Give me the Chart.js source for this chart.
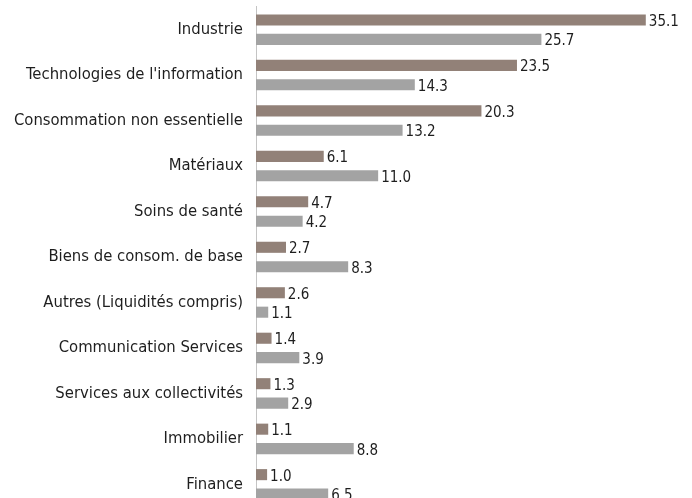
<!DOCTYPE html>
<html>
<head>
<meta charset="utf-8">
<script src="https://cdn.jsdelivr.net/npm/chart.js@4.4.0/dist/chart.umd.min.js"></script>
<style>
  html, body { margin: 0; padding: 0; background: #fff; overflow: hidden; }
  #wrap { position: relative; width: 692px; height: 546px; margin-top: -16px; }
</style>
</head>
<body>
<div id="wrap"><canvas id="sectorChart"></canvas></div>
<script>
const categories = [
  "Industrie",
  "Technologies de l'information",
  "Consommation non essentielle",
  "Matériaux",
  "Soins de santé",
  "Biens de consom. de base",
  "Autres (Liquidités compris)",
  "Communication Services",
  "Services aux collectivités",
  "Immobilier",
  "Finance"
];
const fundValues = [35.1, 23.5, 20.3, 6.1, 4.7, 2.7, 2.6, 1.4, 1.3, 1.1, 1.0];
const indexValues = [25.7, 14.3, 13.2, 11.0, 4.2, 8.3, 1.1, 3.9, 2.9, 8.8, 6.5];

const FONT = "'Liberation Sans Narrow', 'DejaVu Sans Condensed', Roboto, sans-serif";

// writes the value just after the end of each bar
const valueLabels = {
  id: "valueLabels",
  afterDatasetsDraw(chart) {
    const ctx = chart.ctx;
    ctx.save();
    ctx.font = "15px " + FONT;
    ctx.fillStyle = "#1e1e1e";
    ctx.textAlign = "left";
    ctx.textBaseline = "middle";
    chart.data.datasets.forEach((ds, i) => {
      chart.getDatasetMeta(i).data.forEach((bar, j) => {
        ctx.fillText(ds.data[j].toFixed(1), bar.x + 3, bar.y + 2);
      });
    });
    ctx.restore();
  }
};

new Chart(document.getElementById("sectorChart"), {
  type: "bar",
  data: {
    labels: categories,
    datasets: [
      { label: "Fonds", data: fundValues, backgroundColor: "#928178", categoryPercentage: 0.855, barPercentage: 0.57 },
      { label: "Indice", data: indexValues, backgroundColor: "#a3a3a3", categoryPercentage: 0.855, barPercentage: 0.57 }
    ]
  },
  options: {
    indexAxis: "y",
    responsive: true,
    maintainAspectRatio: false,
    animation: false,
    layout: { padding: { top: 6, bottom: 6, left: 0, right: 14 } },
    plugins: { legend: { display: false }, tooltip: { enabled: false } },
    scales: {
      x: { display: false, min: 0, max: 38 },
      y: {
        grid: { display: false, drawTicks: false },
        border: { display: true, color: "#c4c4c4", width: 1 },
        ticks: { color: "#1e1e1e", padding: 13, font: { family: FONT, size: 16.5 } },
        afterFit(axis) { axis.width = 256; }
      }
    }
  },
  plugins: [valueLabels]
});
</script>
</body>
</html>
